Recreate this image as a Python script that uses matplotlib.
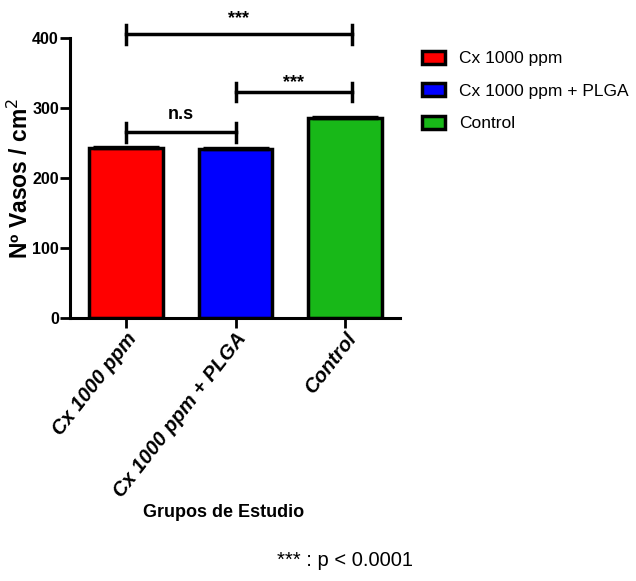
import numpy as np
import matplotlib.pyplot as plt

plt.rcParams['font.family'] = ['Liberation Sans', 'DejaVu Sans']

# group means and errors
grupos = ['Cx 1000 ppm', 'Cx 1000 ppm + PLGA', 'Control']
vasos = [243, 242, 286]
error = [2, 2, 2]
colores = ['#ff0000', '#0000ff', '#18b818']

# significance brackets: (from group, to group, height, label)
brackets = [(0, 2, 405, '***'), (1, 2, 323, '***'), (0, 1, 265, 'n.s')]
# baseline of each bracket label above its line
desplaz = [17, 7, 19]

fig = plt.figure(figsize=(6.36, 5.81), dpi=100)
ax = fig.add_axes([0.110, 0.4527, 0.519, 0.4819])

x = np.arange(len(grupos))
bars = ax.bar(x, vasos, width=0.67, color=colores, edgecolor='black', linewidth=2.5,
              label=grupos, zorder=2)
ax.errorbar(x, vasos, yerr=error, fmt='none', ecolor='black', elinewidth=1,
            capsize=24, capthick=1, zorder=3)

ax.set_xlim(-0.51, 2.5)
ax.set_ylim(0, 400)
ax.set_yticks([0, 100, 200, 300, 400])
ax.set_xticks(x)
ax.set_xticklabels(grupos, rotation=52, ha='right', rotation_mode='anchor',
                   fontsize=14.5, fontweight='bold', fontstyle='italic')
for lab in ax.get_yticklabels():
    lab.set_fontweight('bold')
    lab.set_fontsize(11.5)

for s in ['top', 'right']:
    ax.spines[s].set_visible(False)
for s in ['left', 'bottom']:
    ax.spines[s].set_linewidth(2.2)
ax.tick_params(width=2, length=7, pad=1)

ax.set_ylabel('Nº Vasos / cm$^2$', fontsize=16.5, fontweight='bold')
ax.yaxis.set_label_coords(-0.112, 0.5)
ax.set_xlabel('Grupos de Estudio', fontsize=13, fontweight='bold')
ax.xaxis.set_label_coords(0.464, -0.665)

# brackets with centred caps
cap = 13
for (a, b, h, txt), d in zip(brackets, desplaz):
    xa, xb = x[a], x[b] + (0.06 if b == 2 else 0)
    ax.plot([xa, xb], [h, h], color='black', lw=2.5, clip_on=False, zorder=4)
    ax.plot([xa, xa], [h - cap, h + cap], color='black', lw=2.5, clip_on=False, zorder=4)
    ax.plot([xb, xb], [h - cap, h + cap], color='black', lw=2.5, clip_on=False, zorder=4)
    ax.text((xa + xb) / 2, h + d, txt, ha='center', va='baseline', fontsize=13,
            fontweight='bold', clip_on=False)

ax.legend(handles=bars, labels=grupos, loc='upper left', bbox_to_anchor=(0.6635, 0.913),
          bbox_transform=fig.transFigure, frameon=False, fontsize=12.5,
          handlelength=1.3, handleheight=0.8, handletextpad=0.85, labelspacing=0.97,
          borderaxespad=0, borderpad=0)

fig.text(0.542, 0.036, '*** : p < 0.0001', ha='center', va='center', fontsize=14.5)

fig.savefig('out.png', dpi=100)
